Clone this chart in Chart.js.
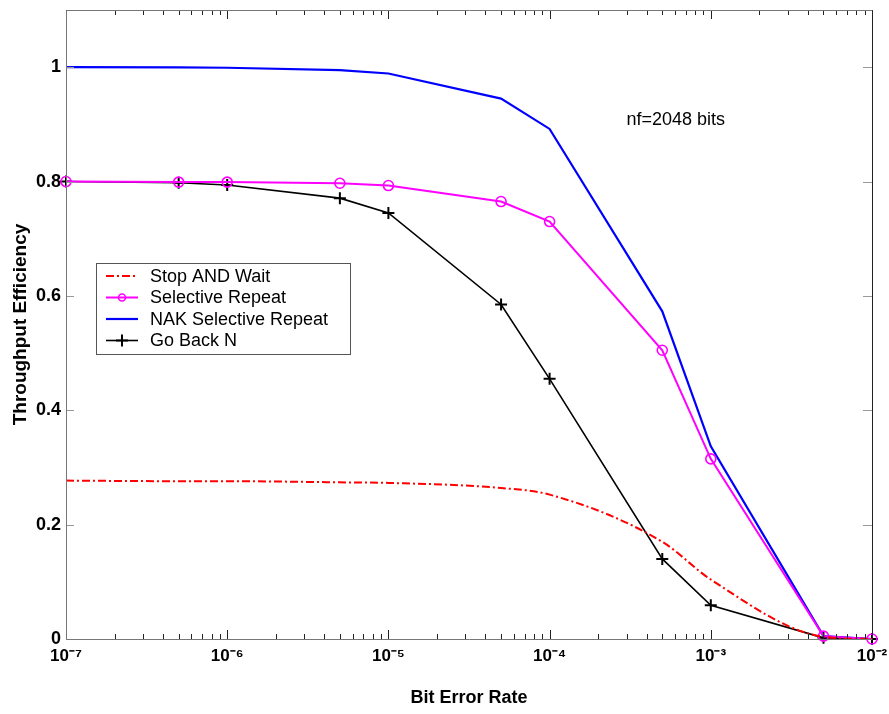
<!DOCTYPE html>
<html>
<head>
<meta charset="utf-8">
<script src="https://cdn.jsdelivr.net/npm/chart.js@4.4.0/dist/chart.umd.min.js"></script>
<style>
  html, body { margin: 0; padding: 0; background: #fff; }
  #wrap { width: 889px; height: 714px; position: relative; }
</style>
</head>
<body>
<div id="wrap"><canvas id="chart"></canvas></div>
<script>
// bit error rates where each curve was sampled
const berValues = [1e-7, 5e-7, 1e-6, 5e-6, 1e-5, 5e-5, 1e-4, 5e-4, 1e-3, 5e-3, 1e-2];
const stopAndWait = [0.277, 0.276, 0.276, 0.274, 0.273, 0.264, 0.2525, 0.170, 0.104, 0.004, 0.0];
const selectiveRepeat = [0.800, 0.799, 0.799, 0.797, 0.793, 0.765, 0.730, 0.505, 0.315, 0.005, 0.0];
const nakSelectiveRepeat = [1.000, 0.9995, 0.999, 0.995, 0.989, 0.945, 0.892, 0.573, 0.337, 0.005, 0.0];
const goBackN = [0.800, 0.798, 0.794, 0.771, 0.745, 0.585, 0.455, 0.140, 0.059, 0.002, 0.0];

const decades = [-7, -6, -5, -4, -3, -2];
const yTicks = [0, 0.2, 0.4, 0.6, 0.8, 1];
const noteText = 'nf=2048 bits';

const FONT = "'Liberation Sans', Arial, sans-serif";
const sup = { '-': '\u207B', '0': '\u2070', '1': '\u00B9', '2': '\u00B2', '3': '\u00B3', '4': '\u2074',
              '5': '\u2075', '6': '\u2076', '7': '\u2077', '8': '\u2078', '9': '\u2079' };
const toXY = (xs, ys) => xs.map((x, i) => ({ x: x, y: ys[i] }));
const isDecade = v => Math.abs(Math.log10(v) - Math.round(Math.log10(v))) < 1e-9;

// box, inward tick marks, legend and note
const matlabFrame = {
    id: 'matlabFrame',
    afterDatasetsDraw(chart) {
        const { ctx, chartArea: a, scales: { x, y } } = chart;
        ctx.save();
        ctx.lineWidth = 1;
        // x ticks top and bottom
        x.ticks.forEach(t => {
            const px = Math.round(x.getPixelForValue(t.value)) + 0.5;
            const len = isDecade(t.value) ? 9 : 5;
            ctx.strokeStyle = '#222';
            ctx.beginPath();
            ctx.moveTo(px, a.bottom); ctx.lineTo(px, a.bottom - len);
            ctx.moveTo(px, a.top); ctx.lineTo(px, a.top + len);
            ctx.stroke();
        });
        // y ticks left and right
        y.ticks.forEach(t => {
            const py = Math.round(y.getPixelForValue(t.value)) + 0.5;
            ctx.strokeStyle = '#999';
            ctx.beginPath();
            ctx.moveTo(a.left, py); ctx.lineTo(a.left + 8, py);
            ctx.moveTo(a.right, py); ctx.lineTo(a.right - 9, py);
            ctx.stroke();
        });
        // frame
        ctx.strokeStyle = '#777';
        ctx.beginPath();
        ctx.moveTo(a.left + 0.5, a.top + 0.5);
        ctx.lineTo(a.right + 0.5, a.top + 0.5);
        ctx.moveTo(a.left + 0.5, a.top + 0.5);
        ctx.lineTo(a.left + 0.5, a.bottom + 0.5);
        ctx.lineTo(a.right + 0.5, a.bottom + 0.5);
        ctx.stroke();
        ctx.strokeStyle = '#222';
        ctx.beginPath();
        ctx.moveTo(a.right + 0.5, a.top + 0.5);
        ctx.lineTo(a.right + 0.5, a.bottom + 0.5);
        ctx.stroke();
        ctx.restore();
    },
    afterDraw(chart) {
        const { ctx, chartArea: a, scales: { x, y } } = chart;
        ctx.save();
        // note
        ctx.font = '18px ' + FONT;
        ctx.fillStyle = '#000';
        ctx.textAlign = 'left';
        ctx.textBaseline = 'middle';
        ctx.fillText(noteText, x.getPixelForValue(3.0e-4), y.getPixelForValue(0.907));

        // legend
        const lx = a.left + 30, ly = a.top + 253, lw = 254, lh = 91;
        ctx.fillStyle = '#fff';
        ctx.fillRect(lx, ly, lw, lh);
        ctx.strokeStyle = '#555';
        ctx.lineWidth = 1;
        ctx.strokeRect(lx + 0.5, ly + 0.5, lw, lh);
        chart.data.datasets.forEach((ds, i) => {
            const cy = ly + 13 + i * 21.5;
            ctx.save();
            ctx.strokeStyle = ds.borderColor;
            ctx.lineWidth = ds.borderWidth;
            ctx.setLineDash(ds.borderDash || []);
            ctx.beginPath();
            ctx.moveTo(lx + 10, cy); ctx.lineTo(lx + 42, cy);
            ctx.stroke();
            ctx.setLineDash([]);
            if (ds.pointRadius > 0) {
                const mx = lx + 26;
                ctx.lineWidth = ds.pointBorderWidth;
                ctx.strokeStyle = ds.pointBorderColor;
                ctx.beginPath();
                if (ds.pointStyle === 'cross') {
                    ctx.moveTo(mx - ds.pointRadius, cy); ctx.lineTo(mx + ds.pointRadius, cy);
                    ctx.moveTo(mx, cy - ds.pointRadius); ctx.lineTo(mx, cy + ds.pointRadius);
                } else {
                    ctx.arc(mx, cy, 3.5, 0, Math.PI * 2);
                }
                ctx.stroke();
            }
            ctx.restore();
            ctx.fillStyle = '#000';
            ctx.font = '18px ' + FONT;
            ctx.textAlign = 'left';
            ctx.textBaseline = 'middle';
            ctx.fillText(ds.label, lx + 54, cy + 1);
        });
        ctx.restore();
    }
};

new Chart(document.getElementById('chart'), {
    type: 'line',
    data: {
        datasets: [{
            label: 'Stop AND Wait',
            data: toXY(berValues, stopAndWait),
            borderColor: '#ff0000',
            borderWidth: 2,
            borderDash: [8, 3, 2, 3],
            cubicInterpolationMode: 'monotone',
            pointRadius: 0,
            pointBorderWidth: 0,
            pointBorderColor: '#ff0000',
            clip: false
        }, {
            label: 'Selective Repeat',
            data: toXY(berValues, selectiveRepeat),
            borderColor: '#ff00ff',
            borderWidth: 2,
            pointStyle: 'circle',
            pointRadius: 5,
            pointBorderWidth: 1.6,
            pointBorderColor: '#ff00ff',
            pointBackgroundColor: 'rgba(0,0,0,0)',
            clip: false
        }, {
            label: 'NAK Selective Repeat',
            data: toXY(berValues, nakSelectiveRepeat),
            borderColor: '#0000ff',
            borderWidth: 2.2,
            pointRadius: 0,
            pointBorderWidth: 0,
            pointBorderColor: '#0000ff',
            clip: false
        }, {
            label: 'Go Back N',
            data: toXY(berValues, goBackN),
            borderColor: '#000000',
            borderWidth: 1.6,
            pointStyle: 'cross',
            pointRadius: 6,
            pointBorderWidth: 2,
            pointBorderColor: '#000000',
            clip: false
        }]
    },
    options: {
        responsive: true,
        maintainAspectRatio: false,
        animation: false,
        layout: { padding: { left: 0, right: 17, top: 10, bottom: 0 } },
        plugins: {
            legend: { display: false },
            tooltip: { enabled: false }
        },
        elements: { line: { tension: 0 } },
        scales: {
            x: {
                type: 'logarithmic',
                min: 1e-7,
                max: 1e-2,
                afterBuildTicks: axis => {
                    const t = [];
                    decades.forEach(e => {
                        for (let m = 1; m <= 9; m++) {
                            const v = m * Math.pow(10, e);
                            if (v <= 1e-2 * 1.0001) t.push({ value: v });
                        }
                    });
                    axis.ticks = t;
                },
                afterFit: scale => {
                    scale.height = 75;
                    scale.paddingLeft = 0;
                    scale.paddingRight = 0;
                },
                grid: { display: false, drawTicks: false },
                border: { display: false },
                ticks: {
                    autoSkip: false,
                    maxRotation: 0,
                    minRotation: 0,
                    padding: 7,
                    color: '#000',
                    font: { family: FONT, size: 17, weight: 'bold' },
                    callback: v => {
                        if (!isDecade(v)) return '';
                        const e = String(Math.round(Math.log10(v)));
                        return '10' + e.split('').map(c => sup[c]).join('');
                    }
                },
                title: {
                    display: true,
                    text: 'Bit Error Rate',
                    color: '#000',
                    padding: { top: 0, bottom: 5 },
                    font: { family: FONT, size: 18, weight: 'bold' }
                }
            },
            y: {
                min: 0,
                max: 1.1,
                afterBuildTicks: axis => { axis.ticks = yTicks.map(v => ({ value: v })); },
                afterFit: scale => {
                    scale.width = 66;
                    scale.paddingTop = 0;
                    scale.paddingBottom = 0;
                },
                grid: { display: false, drawTicks: false },
                border: { display: false },
                ticks: {
                    padding: 5,
                    color: '#000',
                    font: { family: FONT, size: 18, weight: 'bold' },
                    callback: v => String(Math.round(v * 10) / 10)
                },
                title: {
                    display: true,
                    text: 'Throughput Efficiency',
                    color: '#000',
                    padding: { top: 9, bottom: 0 },
                    font: { family: FONT, size: 19, weight: 'bold' }
                }
            }
        }
    },
    plugins: [matlabFrame]
});
</script>
</body>
</html>
